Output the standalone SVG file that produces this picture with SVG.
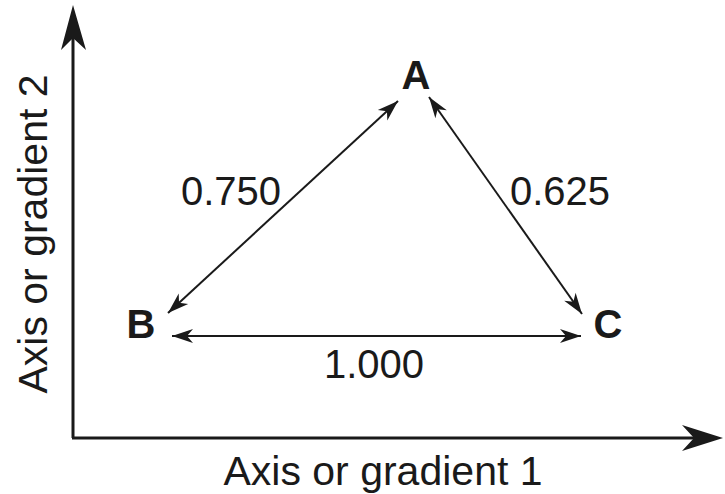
<svg xmlns="http://www.w3.org/2000/svg" width="725" height="494" viewBox="0 0 725 494">
<style>
.axis{stroke:#1a1a1a;stroke-width:3;fill:none}
.head{fill:#1a1a1a}
.conn{stroke:#1a1a1a;stroke-width:2;fill:none}
.lbl{font-family:"Liberation Sans",Arial,sans-serif;font-size:41px;fill:#1a1a1a;text-anchor:middle}
.node{font-family:"Liberation Sans",Arial,sans-serif;font-size:40px;font-weight:bold;fill:#1a1a1a;text-anchor:middle}
.num{font-family:"Liberation Sans",Arial,sans-serif;font-size:40px;fill:#1a1a1a;text-anchor:middle}
</style>
<defs>
<marker id="ah" markerUnits="userSpaceOnUse" markerWidth="30" markerHeight="20" viewBox="-24 -10 30 20" refX="0" refY="0" orient="auto-start-reverse">
<path d="M0,0 L-21,-7 L-15,0 L-21,7 Z" fill="#1a1a1a"/>
</marker>
</defs>
<g id="axes">
<path class="axis" d="M73,438 V36 M72,438 H696"/>
<path class="head" d="M73,5 L61,50 L73,38 L86,50 Z"/>
<path class="head" d="M723,438 L682,425 L694,438 L682,451 Z"/>
<text class="lbl" x="383" y="485">Axis or gradient 1</text>
<text class="lbl" transform="translate(47,234) rotate(-90)">Axis or gradient 2</text>
</g>
<g id="connectors">
<line class="conn" x1="168" y1="313" x2="398" y2="101" marker-start="url(#ah)" marker-end="url(#ah)"/>
<line class="conn" x1="429" y1="97" x2="582" y2="314" marker-start="url(#ah)" marker-end="url(#ah)"/>
<line class="conn" x1="172" y1="336" x2="581" y2="336" marker-start="url(#ah)" marker-end="url(#ah)"/>
<text class="num" x="231" y="205">0.750</text>
<text class="num" x="560" y="205">0.625</text>
<text class="num" x="374" y="378">1.000</text>
</g>
<g id="node-A"><text class="node" x="416" y="89">A</text></g>
<g id="node-B"><text class="node" x="141" y="338">B</text></g>
<g id="node-C"><text class="node" x="608" y="338">C</text></g>
</svg>
